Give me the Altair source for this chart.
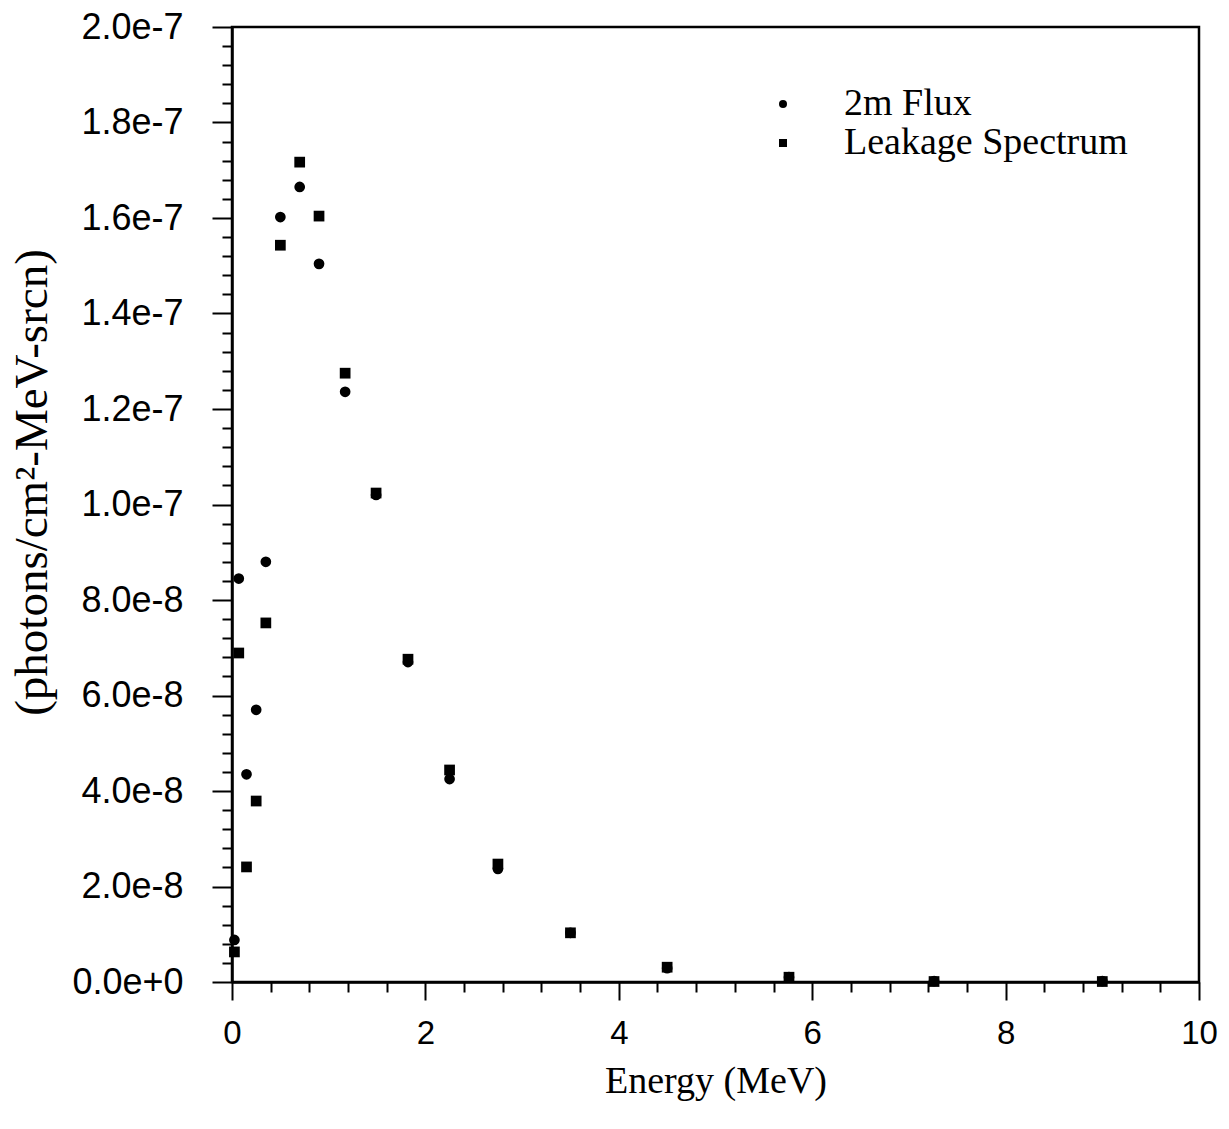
import altair as alt
import pandas as pd

energy = [0.025, 0.07, 0.15, 0.25, 0.35, 0.5, 0.7, 0.9, 1.17, 1.49, 1.82, 2.25, 2.75, 3.5, 4.5, 5.76, 7.26, 9.0]
flux_2m = [8.8e-9, 8.45e-8, 4.35e-8, 5.7e-8, 8.8e-8, 1.602e-7, 1.665e-7, 1.504e-7, 1.236e-7, 1.020e-7,
           6.70e-8, 4.25e-8, 2.37e-8, 1.03e-8, 2.9e-9, 1.0e-9, 2e-10, 2e-10]
leakage = [6.3e-9, 6.89e-8, 2.41e-8, 3.79e-8, 7.52e-8, 1.543e-7, 1.717e-7, 1.604e-7, 1.275e-7, 1.024e-7,
           6.76e-8, 4.44e-8, 2.47e-8, 1.03e-8, 3.1e-9, 1.0e-9, 1e-10, 1e-10]
series_names = ["2m Flux", "Leakage Spectrum"]

rows = []
for e, f, l in zip(energy, flux_2m, leakage):
    rows.append({"energy": e, "value": f, "series": series_names[0]})
    rows.append({"energy": e, "value": l, "series": series_names[1]})
df = pd.DataFrame(rows)

x_ticks = [round(i * 0.4, 4) for i in range(26)]
y_ticks = [round(i * 4e-9, 15) for i in range(51)]

SERIF = "Liberation Serif"
SANS = "Liberation Sans"

x_axis = alt.Axis(
    values=x_ticks,
    labelExpr="abs(datum.value/2 - round(datum.value/2)) < 1e-6 ? format(datum.value, 'd') : ''",
    tickSize={"condition": {"test": "abs(datum.value/2 - round(datum.value/2)) < 1e-6", "value": 18}, "value": 10},
    tickColor="black", tickWidth=2, domainColor="black", domainWidth=2.5,
    labelFont=SANS, labelFontSize=33, labelColor="black", labelPadding=17,
    title="Energy (MeV)", titleFont=SERIF, titleFontSize=38, titleFontWeight="normal",
    titleColor="black", titlePadding=12, grid=False, labelFlush=False, labelOverlap=False,
)

y_axis = alt.Axis(
    values=y_ticks,
    labelExpr="abs(datum.value/2e-8 - round(datum.value/2e-8)) < 1e-6 ? format(datum.value, '.1e') : ''",
    tickSize={"condition": {"test": "abs(datum.value/2e-8 - round(datum.value/2e-8)) < 1e-6", "value": 20}, "value": 10},
    tickColor="black", tickWidth=2, domainColor="black", domainWidth=2.5,
    labelFont=SANS, labelFontSize=36, labelColor="black", labelPadding=29,
    title="(photons/cm²-MeV-srcn)", titleFont=SERIF, titleFontSize=47, titleFontWeight="normal",
    titleColor="black", titlePadding=15, titleY=455, grid=False, labelFlush=False, labelOverlap=False,
)

chart = alt.Chart(df).mark_point(filled=True, opacity=1, color="black", size=115).encode(
    x=alt.X("energy:Q", scale=alt.Scale(domain=[0, 10], nice=False, zero=False), axis=x_axis),
    y=alt.Y("value:Q", scale=alt.Scale(domain=[0, 2e-7], nice=False), axis=y_axis),
    shape=alt.Shape(
        "series:N",
        scale=alt.Scale(domain=series_names, range=["circle", "square"]),
        legend=alt.Legend(
            title=None, orient="none", legendX=532, legendY=58,
            labelFont=SERIF, labelFontSize=38, labelColor="black", labelLimit=0,
            symbolSize=64, symbolFillColor="black", symbolStrokeColor="black",
            symbolType="circle", labelOffset=42, rowPadding=1,
        ),
    ),
).properties(
    width=967, height=955,
    autosize=alt.AutoSizeParams(type="none"),
    padding={"left": 224, "top": 19, "right": 22, "bottom": 139},
).configure(
    background="white",
    view=alt.ViewConfig(stroke="black", strokeWidth=2.5),
)

chart.save("out.html", embed_options={"renderer": "svg", "actions": False})
